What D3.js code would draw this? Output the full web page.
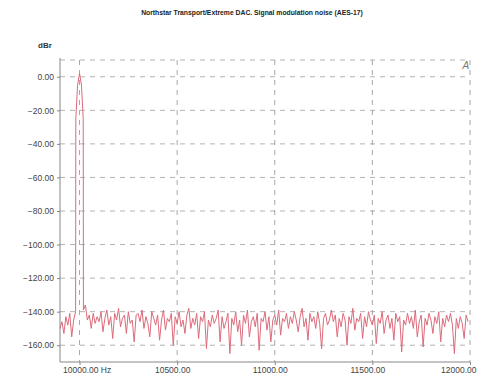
<!DOCTYPE html>
<html><head><meta charset="utf-8">
<script src="https://cdn.jsdelivr.net/npm/d3@7"></script>
<style>body{margin:0;background:#fff}svg{display:block}</style>
</head><body>
<script>
const title = "Northstar Transport/Extreme DAC. Signal modulation noise (AES-17)";
const yUnit = "dBr";
const yTicks = [0, -20, -40, -60, -80, -100, -120, -140, -160];
const xTicks = [10000, 10500, 11000, 11500, 12000];
const xTickLabels = ["10000.00 Hz", "10500.00", "11000.00", "11500.00", "12000.00"];
const noiseStart = 9900, noiseStep = 10;
const noiseDb = [
 -150,-146,-153,-143,-148,-141,-155,-145,-140,-139,
 -138,-137,-140,-136,-145,-142,-150,-141,-147,-143,
 -146,-140,-152,-144,-139,-148,-143,-156,-141,-145,
 -138,-149,-144,-142,-153,-140,-147,-145,-158,-142,
 -141,-146,-139,-150,-143,-147,-155,-140,-144,-148,
 -142,-157,-145,-139,-151,-144,-146,-141,-160,-143,
 -147,-140,-149,-145,-153,-142,-138,-150,-144,-148,
 -141,-156,-143,-146,-140,-162,-145,-149,-142,-147,
 -144,-139,-158,-143,-150,-146,-141,-165,-144,-148,
 -140,-152,-145,-160,-142,-147,-139,-155,-146,-143,
 -149,-141,-163,-144,-146,-140,-151,-143,-158,-145,
 -142,-148,-139,-154,-144,-146,-141,-150,-143,-147,
 -140,-145,-152,-143,-138,-149,-144,-157,-141,-146,
 -143,-150,-140,-147,-162,-144,-141,-148,-145,-139,
 -146,-142,-155,-144,-149,-141,-145,-160,-143,-147,
 -138,-151,-144,-146,-141,-156,-143,-149,-140,-145,
 -148,-142,-159,-144,-147,-140,-153,-145,-142,-150,
 -144,-157,-141,-146,-143,-164,-145,-148,-141,-147,
 -143,-150,-139,-155,-146,-142,-161,-144,-148,-141,
 -145,-153,-143,-147,-140,-158,-144,-149,-142,-146,
 -141,-148,-165,-144,-150,-143,-147,-156,-142,-146
];
const peakFreqs = [9980, 9981, 9990, 10000, 10010, 10019, 10020];
const peakDb = [-140, -25, -5, 2, -5, -25, -139];

const W = 477, H = 376;
const m = {left: 60, right: 7, top: 60, bottom: 14};
const svg = d3.select("body").append("svg").attr("width", W).attr("height", H);

const x = d3.scaleLinear().domain([9900, 12000]).range([m.left, W - m.right]);
const y = d3.scaleLinear().domain([-170, 10]).range([H - m.bottom, m.top]);

let pts = noiseDb.map((v, i) => ({f: noiseStart + i * noiseStep, v}))
  .filter(p => p.f < peakFreqs[0] || p.f > peakFreqs[peakFreqs.length - 1]);
peakFreqs.forEach((f, i) => pts.push({f, v: peakDb[i]}));
pts.sort((a, b) => a.f - b.f);

svg.append("text").attr("x", 252).attr("y", 15).attr("text-anchor", "middle")
  .attr("font-family", "Liberation Sans, Arial, sans-serif").attr("font-size", 6.8)
  .attr("font-weight", "bold").attr("fill", "#222").text(title);

const g = svg.append("g");
g.selectAll("line.hg").data(yTicks.concat([10])).join("line")
  .attr("x1", m.left).attr("x2", W - m.right)
  .attr("y1", d => y(d)).attr("y2", d => y(d))
  .attr("stroke", "#a0a0a0").attr("stroke-width", 0.8).attr("stroke-dasharray", "5,5");
g.selectAll("line.vg").data(xTicks).join("line")
  .attr("x1", d => x(d)).attr("x2", d => x(d))
  .attr("y1", m.top).attr("y2", H - m.bottom)
  .attr("stroke", "#909090").attr("stroke-width", 0.8).attr("stroke-dasharray", "5,5");

const line = d3.line().x(d => x(d.f)).y(d => y(d.v));
g.append("path").datum(pts).attr("d", line).attr("fill", "none")
  .attr("stroke", "#dd6b7b").attr("stroke-width", 1).attr("stroke-linejoin", "round");

g.append("line").attr("x1", m.left).attr("x2", m.left).attr("y1", m.top - 2).attr("y2", H - m.bottom)
  .attr("stroke", "#888").attr("stroke-width", 1);
g.append("line").attr("x1", m.left).attr("x2", W - m.right).attr("y1", H - m.bottom).attr("y2", H - m.bottom)
  .attr("stroke", "#888").attr("stroke-width", 1);

const ya = svg.append("g").attr("transform", `translate(${m.left},0)`)
  .call(d3.axisLeft(y).tickValues(yTicks).tickFormat(d3.format(".2f")).tickSize(3).tickPadding(3));
ya.select(".domain").remove();
ya.selectAll("line").attr("stroke", "#888");
ya.selectAll("text").attr("font-family", "Liberation Sans, Arial, sans-serif").attr("font-size", 8.5).attr("fill", "#444");

const xa = svg.append("g").attr("transform", `translate(0,${H - m.bottom})`)
  .call(d3.axisBottom(x).tickValues(xTicks).tickFormat((d, i) => xTickLabels[i]).tickSize(3).tickPadding(2));
xa.select(".domain").remove();
xa.selectAll("line").attr("stroke", "#888");
const n = xTicks.length;
xa.selectAll("text").attr("font-family", "Liberation Sans, Arial, sans-serif").attr("font-size", 8.5).attr("fill", "#444")
  .attr("dx", -5);
xa.selectAll("text").filter((d, i) => i === 0).attr("text-anchor", "start").attr("dx", -17);
xa.selectAll("text").filter((d, i) => i === n - 1).attr("text-anchor", "end").attr("dx", 6);

svg.append("text").attr("x", 45).attr("y", 48).attr("text-anchor", "middle")
  .attr("font-family", "Liberation Sans, Arial, sans-serif").attr("font-size", 8).attr("font-weight", "bold")
  .attr("fill", "#333").text(yUnit);

svg.append("text").attr("x", 466).attr("y", 69).attr("text-anchor", "middle")
  .attr("font-family", "DejaVu Sans, sans-serif").attr("font-size", 10).attr("font-style", "italic")
  .attr("fill", "#777").text("A");
</script>
</body></html>
